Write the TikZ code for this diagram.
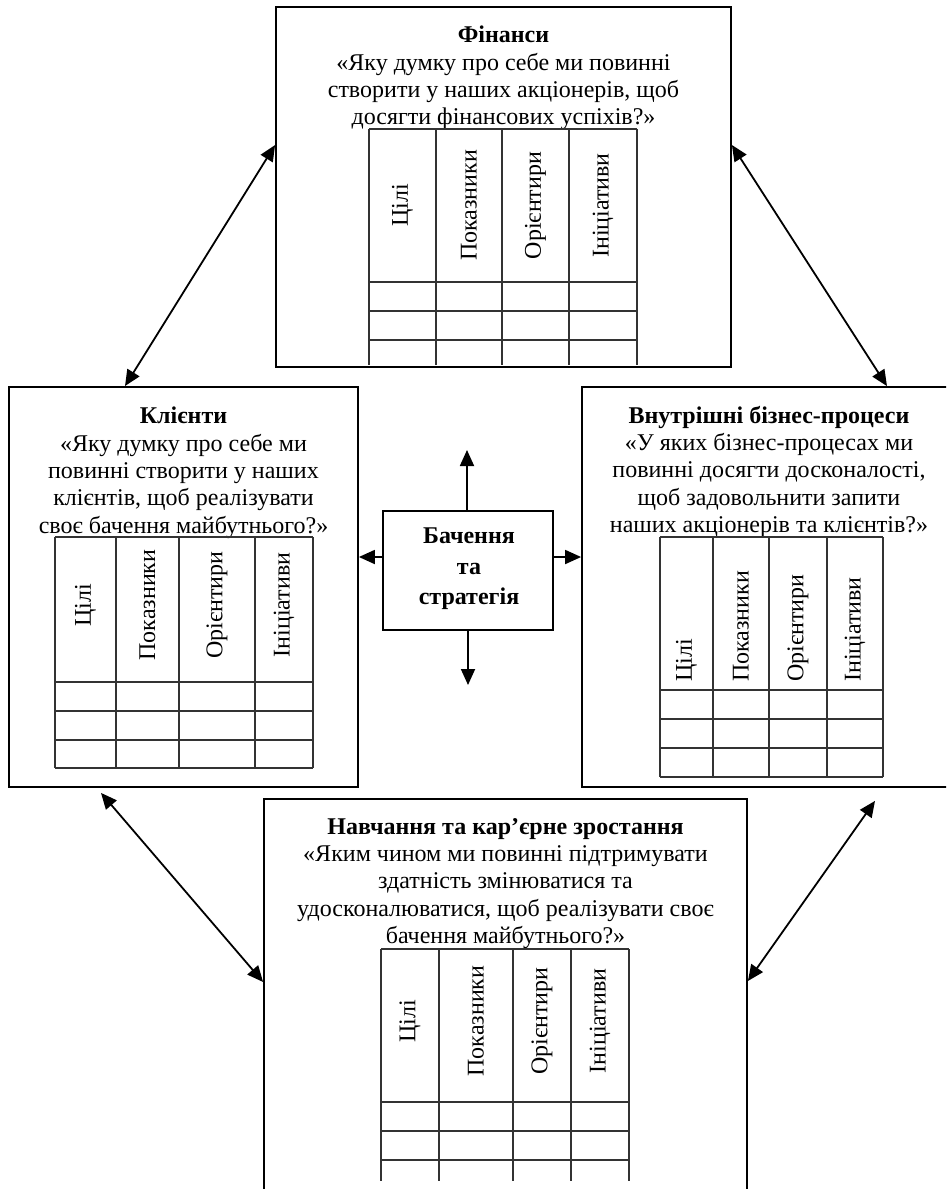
\documentclass[tikz,border=0pt]{standalone}
\usepackage{fontspec}
\setmainfont{Liberation Serif}
\usetikzlibrary{arrows.meta,calc}
\begin{document}
\begin{tikzpicture}[x=1pt,y=-1pt,
  panel/.style={draw=black, line width=1.8pt, inner sep=0pt, fill=none},
  gridln/.style={draw=black!80, line width=1.2pt},
  hd/.style={rotate=90, inner sep=0pt, font=\fontsize{24}{27}\selectfont},
  txt/.style={align=center, inner sep=0pt, font=\fontsize{24}{27.3}\selectfont},
  ctxt/.style={align=center, inner sep=0pt, font=\bfseries\fontsize{24}{28.5}\selectfont},
  arr/.style={line width=1.8pt, -{Triangle[length=16pt,width=14pt]}},
  darr/.style={line width=1.8pt, {Triangle[length=16pt,width=14pt]}-{Triangle[length=16pt,width=14pt]}}]
\useasboundingbox (0,0) rectangle (946,1189);
\clip (0,0) rectangle (946,1189);

% panels
\node[panel, minimum width=455pt, minimum height=360pt] (fin) at (503.5,187) {};
\node[panel, minimum width=349pt, minimum height=400pt] (kli) at (183.5,587) {};
\node[panel, minimum width=374pt, minimum height=400pt] (vnu) at (769,587) {};
\node[panel, minimum width=483pt, minimum height=421pt] (nav) at (505.5,1009.5) {};
\node[panel, minimum width=170pt, minimum height=119pt] (bach) at (468,570.5) {};

% texts
\node[txt, anchor=north] (fint) at (503.5,26) {\textbf{Фінанси}\\«Яку думку про себе ми повинні\\створити у наших акціонерів, щоб\\досягти фінансових успіхів?»};
\node[txt, anchor=north] (klit) at (183.5,407) {\textbf{Клієнти}\\«Яку думку про себе ми\\повинні створити у наших\\клієнтів, щоб реалізувати\\своє бачення майбутнього?»};
\node[txt, anchor=north] (vnut) at (769,406) {\textbf{Внутрішні бізнес-процеси}\\«У яких бізнес-процесах ми\\повинні досягти досконалості,\\щоб задовольнити запити\\наших акціонерів та клієнтів?»};
\node[txt, anchor=north] (navt) at (505.5,818) {\textbf{Навчання та кар’єрне зростання}\\«Яким чином ми повинні підтримувати\\здатність змінюватися та\\удосконалюватися, щоб реалізувати своє\\бачення майбутнього?»};
\node[ctxt, anchor=north] (bacht) at (469,528) {Бачення\\[2pt]та\\[2pt]стратегія};

% table: Фінанси
\draw[gridln] (369,129) -- (637,129);
\foreach \x in {369,436,502,569,637} \draw[gridln] (\x,129) -- (\x,365);
\foreach \y in {282,311,340} \draw[gridln] (369,\y) -- (637,\y);
\node[hd] (f1) at (402.5,205.5) {Цілі};
\node[hd] (f2) at (469,205.5) {Показники};
\node[hd] (f3) at (535.5,205.5) {Орієнтири};
\node[hd] (f4) at (603,205.5) {Ініціативи};

% table: Клієнти
\draw[gridln] (55,537) -- (313,537);
\foreach \x in {55,116,179,255,313} \draw[gridln] (\x,537) -- (\x,768);
\foreach \y in {682,711,740,768} \draw[gridln] (55,\y) -- (313,\y);
\node[hd] (k1) at (85.5,605) {Цілі};
\node[hd] (k2) at (147.5,605) {Показники};
\node[hd] (k3) at (217,605) {Орієнтири};
\node[hd] (k4) at (284,605) {Ініціативи};

% table: Внутрішні бізнес-процеси
\draw[gridln] (660,537) -- (883,537);
\foreach \x in {660,713,769,827,883} \draw[gridln] (\x,537) -- (\x,777);
\foreach \y in {690,719,748,777} \draw[gridln] (660,\y) -- (883,\y);
\node[hd, anchor=west] (v1) at (686.5,682) {Цілі};
\node[hd, anchor=west] (v2) at (741,682) {Показники};
\node[hd, anchor=west] (v3) at (798,682) {Орієнтири};
\node[hd, anchor=west] (v4) at (855,682) {Ініціативи};

% table: Навчання
\draw[gridln] (381,949) -- (629,949);
\foreach \x in {381,439,513,571,629} \draw[gridln] (\x,949) -- (\x,1181);
\foreach \y in {1102,1131,1160} \draw[gridln] (381,\y) -- (629,\y);
\node[hd] (n1) at (410,1021) {Цілі};
\node[hd] (n2) at (476,1021) {Показники};
\node[hd] (n3) at (542,1021) {Орієнтири};
\node[hd] (n4) at (600,1021) {Ініціативи};

% centre arrows
\coordinate (up) at (467,450);
\coordinate (down) at (468,685);
\coordinate (cy) at (0,557);
\draw[arr] (bach.north -| up) -- (up);
\draw[arr] (bach.south -| down) -- (down);
\draw[arr] (bach.west |- cy) -- (kli.east |- cy);
\draw[arr] (bach.east |- cy) -- (vnu.west |- cy);

% diagonal arrows
\draw[darr] (fin.west |- 0,145) -- (kli.north -| 125,0);
\draw[darr] (fin.east |- 0,145) -- (vnu.north -| 887,0);
\draw[darr] ($(kli.south -| 101,0)+(0,5)$) -- (nav.west |- 0,982);
\draw[darr] ($(vnu.south -| 875,0)+(0,13)$) -- (nav.east |- 0,981);
\end{tikzpicture}
\end{document}
